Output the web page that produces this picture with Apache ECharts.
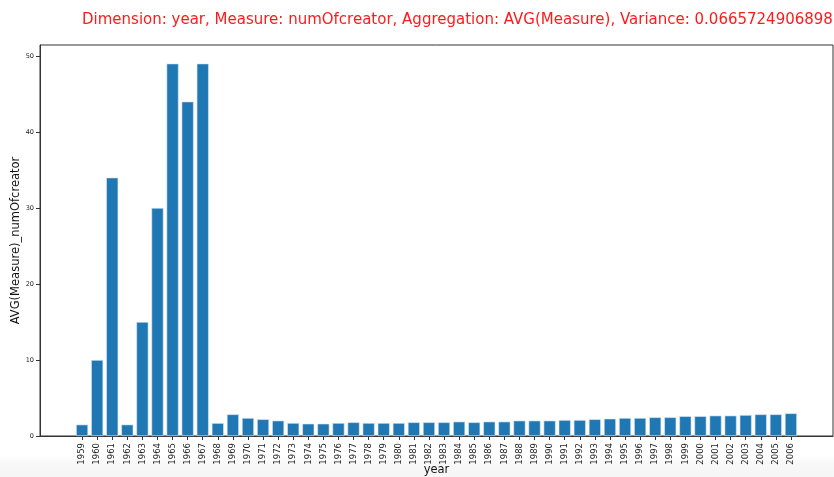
<!DOCTYPE html>
<html>
<head>
<meta charset="utf-8">
<script src="https://cdn.jsdelivr.net/npm/echarts@6/dist/echarts.min.js"></script>
<style>
  html, body { margin: 0; padding: 0; background: #fff; }
  #chart { width: 834px; height: 477px; }
</style>
</head>
<body>
<div id="chart"></div>
<script>
const years = ["1959","1960","1961","1962","1963","1964","1965","1966","1967","1968",
  "1969","1970","1971","1972","1973","1974","1975","1976","1977","1978",
  "1979","1980","1981","1982","1983","1984","1985","1986","1987","1988",
  "1989","1990","1991","1992","1993","1994","1995","1996","1997","1998",
  "1999","2000","2001","2002","2003","2004","2005","2006"]
const avgCreators = [1.5,10,34,1.5,15,30,49,44,49,1.7,
  2.85,2.37,2.2,2.02,1.71,1.62,1.62,1.71,1.8,1.71,
  1.71,1.71,1.8,1.8,1.8,1.89,1.8,1.89,1.89,2.02,
  2.02,2.02,2.1,2.1,2.2,2.28,2.37,2.37,2.46,2.46,
  2.6,2.6,2.68,2.68,2.76,2.85,2.85,2.98]
const yTicks = [0,10,20,30,40,50]

const positions = years.map((y, i) => i)
const chart = echarts.init(document.getElementById('chart'))
const option = {
  backgroundColor: '#fff',
  animation: false,
  // faint grey band along the bottom edge of the picture
  graphic: [{
    type: 'rect',
    left: 0,
    bottom: 0,
    z: -10,
    silent: true,
    shape: { width: 834, height: 22 },
    style: {
      fill: new echarts.graphic.LinearGradient(0, 0, 0, 1, [
        { offset: 0, color: '#ffffff' },
        { offset: 0.4, color: '#f8f8f8' },
        { offset: 1, color: '#f6f6f6' }
      ])
    }
  }],
  title: {
    text: 'Dimension: year, Measure: numOfcreator, Aggregation: AVG(Measure), Variance: 0.0665724906898',
    left: 77,
    top: 8,
    textStyle: {
      color: '#ff1a1a',
      fontWeight: 'normal',
      fontFamily: 'DejaVu Sans',
      fontSize: 15
    }
  },
  grid: {
    left: 40,
    right: 1,
    top: 45,
    bottom: 41,
    containLabel: false,
    outerBoundsMode: 'none',
    show: true,
    borderColor: '#333',
    borderWidth: 1
  },
  xAxis: {
    type: 'value',
    min: -2.79,
    max: 49.79,
    name: 'year',
    nameLocation: 'middle',
    nameGap: 28,
    nameMoveOverlap: false,
    nameTextStyle: { color: '#111', fontSize: 11.5, fontFamily: 'DejaVu Sans' },
    axisLine: { show: true, onZero: false, lineStyle: { color: '#333' } },
    axisTick: { show: true, length: 4, customValues: positions, lineStyle: { color: '#333' } },
    splitLine: { show: false },
    axisLabel: {
      customValues: positions,
      rotate: 90,
      margin: 7,
      color: '#222',
      fontSize: 8.5,
      fontFamily: 'DejaVu Sans',
      formatter: v => years[Math.round(v)] || ''
    }
  },
  yAxis: {
    type: 'value',
    min: 0,
    max: 51.45,
    name: 'AVG(Measure)_numOfcreator',
    nameLocation: 'middle',
    nameGap: 18,
    nameMoveOverlap: false,
    nameTextStyle: { color: '#111', fontSize: 11.5, fontFamily: 'DejaVu Sans' },
    axisLine: { show: true, onZero: false, lineStyle: { color: '#333' } },
    axisTick: { show: true, length: 4, customValues: yTicks, lineStyle: { color: '#333' } },
    splitLine: { show: false },
    axisLabel: {
      customValues: yTicks,
      margin: 6,
      color: '#222',
      fontSize: 6.5,
      fontFamily: 'DejaVu Sans'
    }
  },
  series: [{
    type: 'bar',
    data: avgCreators.map((v, i) => [i, v]),
    barWidth: 12,
    itemStyle: {
      color: '#1f77b4',
      borderColor: '#dbe8f3',
      borderWidth: 0.6
    }
  }]
}
chart.setOption(option)
</script>
</body>
</html>
